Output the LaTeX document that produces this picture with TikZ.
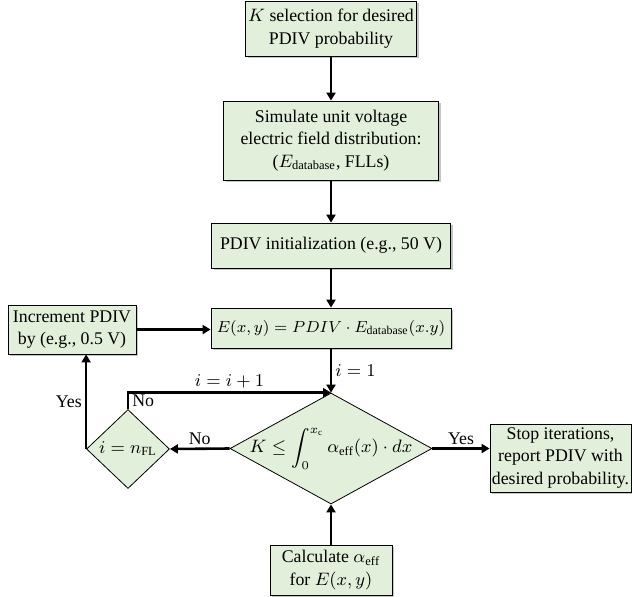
\documentclass[tikz,border=0pt]{standalone}
\usepackage{fontspec}
\setmainfont{Liberation Serif}
\usepackage{amsmath}
\usetikzlibrary{shapes.geometric, arrows.meta, shadows}
\definecolor{verdino}{HTML}{E2EFDA}
\tikzset{
  blocco/.style={draw, thin, fill=verdino, align=center, inner sep=0pt, font=\fontsize{8.9}{11.2}\selectfont, drop shadow={shadow xshift=1pt, shadow yshift=-1pt, fill=black!45}},
  rombo/.style={draw, thin, fill=verdino, diamond, inner sep=0pt, font=\fontsize{8.9}{11.2}\selectfont},
  freccia/.style={-{Triangle[length=4pt, width=4.5pt]}, line width=1.3pt},
  etichetta/.style={font=\fontsize{8.9}{11.2}\selectfont, inner sep=1.5pt}
}
\begin{document}
\begin{tikzpicture}[x = 0.5pt, y = -0.5pt]
    \useasboundingbox (0,0) rectangle (632,596);

    % Blocchi colonna centrale
    \node[blocco, minimum width = 85.5pt, minimum height = 27.5pt] (sel) at (331,28.5) {$K$ selection for desired\\PDIV probability};
    \node[blocco, minimum width = 107.5pt, minimum height = 39.5pt] (sim) at (331,140.5) {Simulate unit voltage\\electric field distribution:\\($E_{\mathrm{database}}$, FLLs)};
    \node[blocco, minimum width = 119.5pt, minimum height = 22.5pt] (init) at (331,245.5) {PDIV initialization (e.g., 50 V)};
    \node[blocco, minimum width = 120pt, minimum height = 20pt, font=\fontsize{8.5}{11}\selectfont] (field) at (331,328) {$E(x,y) = PDIV\cdot E_{\mathrm{database}}(x.y)$};

    % Rombi
    \node[rombo, minimum width = 101pt, minimum height = 55.5pt] (crit) at (331,448.5) {\makebox[0pt]{$K \le \displaystyle\int_0^{x_{\mathrm{c}}} \alpha_{\mathrm{eff}}(x)\cdot dx$}};
    \node[rombo, minimum width = 41.5pt, minimum height = 39.5pt] (last) at (128,449) {\makebox[0pt]{$i = n_{\mathrm{FL}}$}};

    % Blocchi laterali
    \node[blocco, minimum width = 64pt, minimum height = 24.5pt] (incr) at (72,329.5) {Increment PDIV\\by (e.g., 0.5 V)};
    \node[blocco, minimum width = 70.5pt, minimum height = 34pt] (stop) at (560.5,458) {Stop iterations,\\report PDIV with\\desired probability.};
    \node[blocco, minimum width = 61pt, minimum height = 25pt] (calc) at (331,570) {Calculate $\alpha_{\mathrm{eff}}$\\for $E(x,y)$};

    % Frecce
    \draw[freccia] (sel) -- (sim);
    \draw[freccia] (sim) -- (init);
    \draw[freccia] (init) -- (field);
    \draw[freccia] (field) -- (crit.north) node[etichetta, pos = 0.5, right]{$i = 1$};
    \draw[freccia] (calc) -- (crit.south);
    \draw[freccia] (crit.east) -- (crit.east -| stop.west) node[etichetta, pos = 0.5, above]{Yes};
    \draw[freccia] (crit.west) -- (last.east) node[etichetta, pos = 0.5, above]{No};
    \draw[freccia] (last.west) -- (last.west |- incr.south) node[etichetta, pos = 0.5, left]{Yes};
    \draw[freccia] (incr.east) -- (incr.east -| field.west);
    % ciclo su i
    \draw[freccia] (last.north) |- (crit.north) node[etichetta, pos = 0.25, right]{No} node[etichetta, pos = 0.75, above]{$i = i + 1$};
\end{tikzpicture}
\end{document}
